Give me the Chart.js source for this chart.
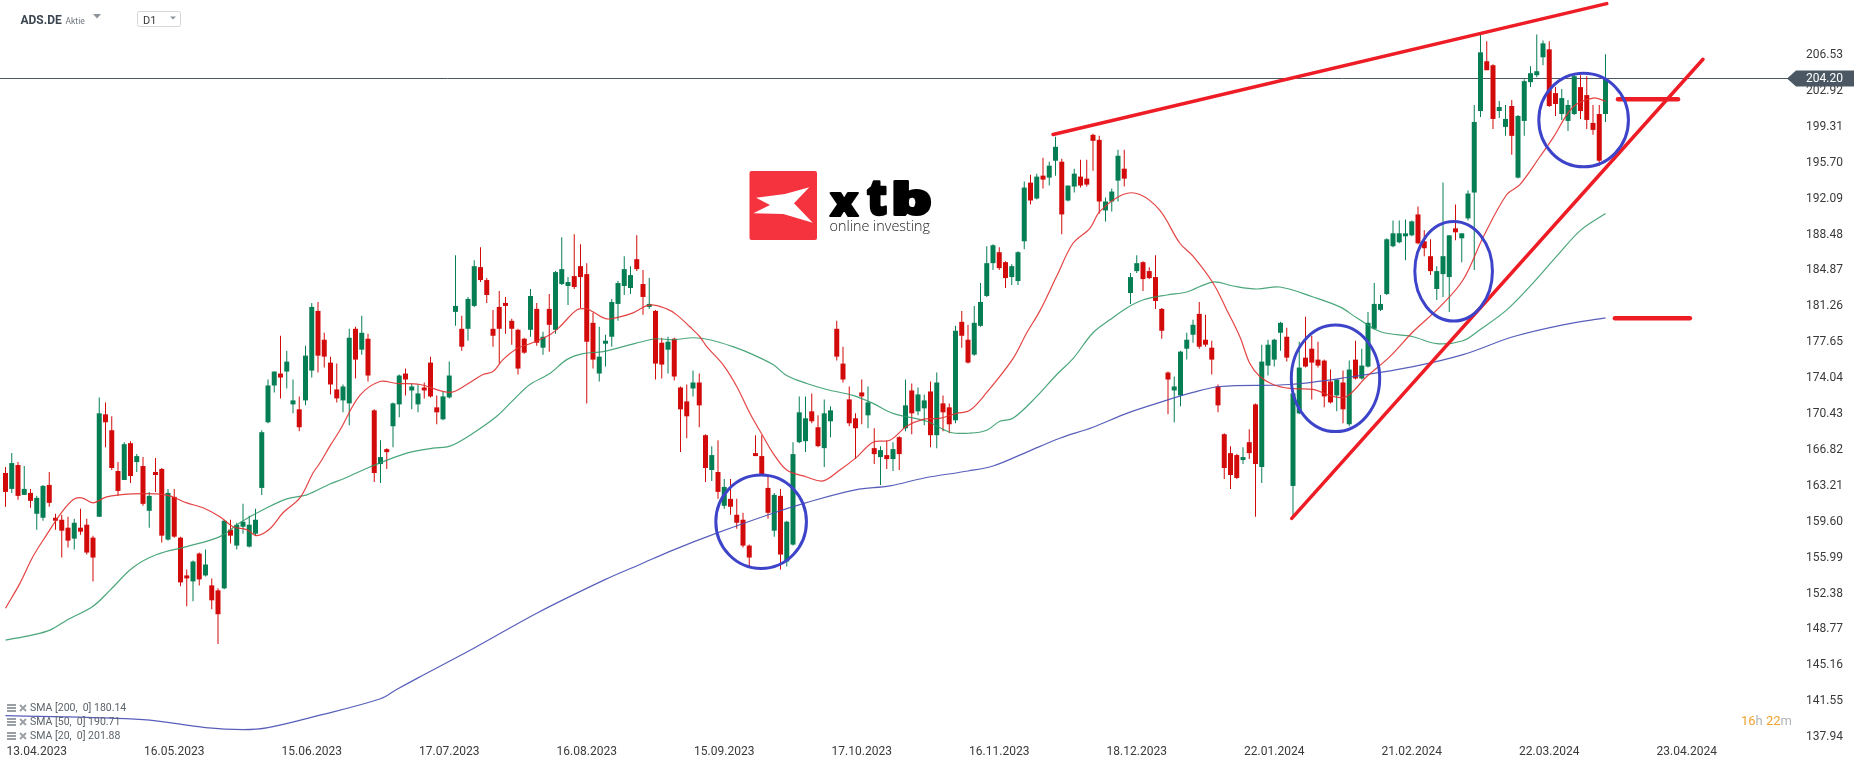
<!DOCTYPE html>
<html><head><meta charset="utf-8">
<script src="https://cdn.jsdelivr.net/npm/chart.js@4.4.0/dist/chart.umd.min.js"></script>
<style>html,body{margin:0;padding:0;background:#fff;overflow:hidden}#wrap{width:1866px;height:767px;position:relative}canvas{display:block}</style>
</head><body><div id="wrap"><canvas id="c" width="1866" height="767"></canvas></div>
<script>
// ---------- DATA ----------
const candleOpen = [
164.5,162.9,165.3,162.3,162.5,160.4,160.0,163.3,160.0,159.8,
159.0,157.9,159.0,159.3,158.0,160.1,170.4,168.8,164.7,163.8,
167.5,165.6,165.2,160.7,164.6,164.9,157.8,162.1,158.0,154.2,
153.6,156.4,154.2,153.2,152.7,152.9,158.8,157.2,159.1,157.1,
158.4,163.0,169.6,173.3,174.5,174.7,171.4,170.9,171.8,174.8,
180.8,177.9,175.6,172.9,171.8,171.5,179.0,176.9,178.0,170.8,
165.4,166.9,169.2,171.4,174.5,172.8,171.4,173.1,175.6,171.1,
169.9,172.1,180.7,179.0,179.0,181.3,185.2,183.9,179.0,181.2,
181.6,179.8,178.9,178.0,178.9,181.0,177.1,181.0,178.9,183.5,
183.3,184.3,185.3,184.5,179.6,174.5,177.5,178.2,181.5,183.3,
183.1,186.0,183.5,181.2,180.8,177.6,176.9,178.0,173.1,171.7,
173.0,173.6,168.3,164.8,164.6,161.2,161.9,160.3,159.8,157.2,
166.5,166.2,163.0,158.7,162.2,155.6,157.3,167.6,167.7,170.7,
169.1,167.0,169.7,179.0,175.5,171.9,170.0,172.6,170.3,167.0,
166.1,166.3,165.9,168.1,169.0,172.8,170.7,171.0,172.7,168.3,
171.5,171.1,169.8,179.7,177.9,176.4,179.3,182.3,185.6,186.7,
185.7,184.2,183.8,187.8,193.7,192.1,194.4,194.2,195.9,195.8,
191.9,193.3,194.3,194.1,198.5,198.0,190.9,191.8,193.9,195.1,
182.6,184.8,185.7,184.8,184.2,181.0,174.6,172.8,172.3,177.0,
178.4,180.5,177.9,177.1,173.2,168.4,166.5,166.3,165.8,167.6,
171.4,165.1,175.3,175.9,178.6,178.2,163.2,170.5,176.1,177.0,
175.9,175.8,173.7,172.3,173.6,169.4,175.9,174.0,175.2,179.0,
180.9,182.5,187.3,187.7,188.3,188.4,190.5,187.8,186.3,183.0,
184.5,184.2,189.1,188.1,190.1,192.7,200.9,205.9,205.5,200.9,
199.3,201.4,194.2,199.9,203.8,204.5,206.3,207.1,202.7,200.6,
199.9,200.6,203.3,202.5,199.7,200.6,200.6];
const candleHigh = [
165.1,166.5,165.6,165.2,162.9,162.2,163.3,164.6,160.4,160.3,
160.1,159.9,160.9,159.9,158.2,172.1,171.6,170.2,165.6,167.6,
167.7,166.4,166.1,162.6,166.0,165.0,162.9,162.9,158.1,154.8,
155.7,156.5,156.8,153.9,152.9,159.8,159.8,159.5,161.4,160.2,
160.9,168.8,173.9,174.7,178.3,176.8,173.9,172.2,177.3,181.6,
181.7,178.6,176.2,175.5,173.4,179.0,179.2,180.3,178.5,170.9,
167.8,167.0,171.6,174.4,175.0,173.5,173.4,173.6,176.2,172.3,
172.7,175.7,186.4,180.3,182.2,185.9,187.2,184.1,180.9,182.8,
182.2,180.0,179.0,178.1,183.0,181.6,178.7,182.5,184.8,188.2,
184.2,188.5,187.5,185.6,180.6,179.2,178.4,182.0,183.8,186.3,
185.3,188.4,184.9,184.1,180.9,178.1,178.2,178.1,173.2,173.4,
174.8,174.5,168.4,167.2,167.8,163.9,163.9,161.9,160.5,157.3,
168.3,168.3,164.1,162.5,162.9,159.7,167.6,172.2,172.2,172.5,
170.3,171.9,171.2,179.8,177.2,173.2,170.5,173.9,173.2,169.0,
167.2,167.8,167.6,168.2,173.9,173.5,173.1,172.4,173.7,174.6,
172.3,171.5,179.3,180.8,179.4,181.3,183.6,187.3,187.5,187.2,
185.8,185.5,186.8,193.8,194.5,194.6,196.2,195.8,198.3,196.1,
193.4,195.1,196.0,196.0,198.6,198.4,192.2,193.1,197.0,197.0,
184.6,186.4,185.8,185.2,186.4,181.1,174.7,174.2,176.8,178.6,
179.9,181.7,180.4,177.8,173.4,168.5,167.2,166.4,167.1,168.9,
171.5,177.4,177.9,178.0,179.7,179.1,172.6,177.7,180.2,178.3,
177.7,175.9,174.9,173.9,174.8,175.8,177.8,177.0,180.7,183.6,
182.4,188.1,189.9,189.9,190.0,189.9,191.3,188.9,188.0,185.3,
193.7,188.4,191.5,188.6,192.9,201.5,208.6,207.9,205.6,201.9,
201.5,202.0,200.5,204.1,205.4,208.6,208.0,207.9,203.3,203.1,
202.0,204.7,204.5,204.4,201.5,201.5,206.6];
const candleLow = [
161.1,162.5,161.8,162.3,161.0,158.8,159.7,161.1,158.8,156.0,
157.0,156.8,158.3,156.3,153.6,160.1,167.1,164.8,162.2,163.8,
163.5,164.6,161.2,159.0,162.6,157.5,157.7,158.0,153.1,151.1,
151.6,153.2,154.1,150.8,147.3,152.8,157.4,156.8,158.4,157.0,
158.2,162.3,169.5,172.6,172.0,173.0,170.5,168.7,171.3,174.1,
174.6,175.1,172.4,171.6,170.6,169.3,174.0,176.4,173.7,163.6,
163.5,164.9,167.1,170.1,172.3,170.9,170.6,172.0,172.1,169.4,
169.8,172.0,179.3,176.8,177.8,181.2,183.7,181.6,177.2,175.5,
178.5,177.4,174.4,176.5,178.2,177.3,176.4,176.7,178.5,183.4,
181.4,183.0,181.1,171.5,175.0,173.7,175.2,177.2,179.8,182.4,
182.5,184.8,180.4,181.0,173.9,174.0,174.5,173.8,166.6,168.0,
172.2,169.1,163.6,163.7,161.9,160.9,160.3,158.9,157.0,155.0,
166.2,164.4,159.9,158.1,154.8,155.1,157.2,167.5,166.6,169.5,
167.1,165.1,168.1,175.8,173.6,169.2,165.9,169.4,169.0,165.4,
163.3,164.9,164.7,164.8,168.7,168.4,170.3,169.3,167.1,167.0,
168.7,168.5,169.5,177.1,175.5,176.3,179.2,182.2,184.9,184.9,
183.1,183.4,183.4,187.0,191.5,192.0,193.1,193.4,194.4,188.5,
191.8,192.7,193.2,193.3,194.9,190.6,189.8,190.8,191.8,193.3,
181.5,184.6,182.8,184.0,181.0,178.0,170.4,169.6,171.2,175.9,
177.6,177.0,177.2,174.4,170.6,163.9,162.9,163.9,165.4,165.9,
160.1,163.5,174.3,175.2,176.8,175.7,160.1,170.4,175.1,171.9,
175.1,171.1,171.5,170.7,169.5,169.2,173.9,173.9,175.1,178.9,
180.8,182.4,187.2,187.6,185.9,188.3,187.5,186.3,184.4,181.9,
182.2,180.7,187.9,185.7,189.9,184.9,200.3,205.0,199.1,200.2,
198.4,196.5,194.1,198.4,203.3,204.3,205.5,201.3,200.4,200.0,
198.9,200.5,200.1,199.1,198.5,195.4,199.8];
const candleClose = [
162.6,165.5,162.2,162.9,161.7,162.0,163.2,161.5,159.7,158.7,
157.7,159.5,158.6,156.5,156.0,170.5,169.6,165.0,162.7,167.4,
164.2,166.2,161.4,162.2,164.3,158.2,162.5,158.1,153.5,153.9,
155.6,153.8,155.3,151.7,150.3,159.7,158.2,159.3,159.6,159.3,
159.8,168.6,173.3,174.7,174.1,175.7,171.8,169.1,176.3,181.2,
176.3,176.2,173.4,172.0,173.2,178.1,175.9,178.6,174.3,164.5,
166.1,166.6,171.5,174.3,173.9,173.2,172.5,172.8,172.2,170.6,
172.2,174.3,181.3,177.2,182.0,185.3,183.9,182.4,178.3,179.0,
181.3,179.0,175.0,176.6,182.3,177.6,178.2,179.4,184.7,185.0,
183.7,183.2,184.2,177.7,175.9,176.2,177.8,181.7,183.6,185.0,
184.4,185.0,182.2,181.5,175.5,175.4,177.7,174.2,170.9,170.2,
173.6,171.3,165.0,166.3,162.6,163.1,161.1,159.5,157.2,156.0,
166.2,164.4,160.5,162.3,156.3,159.6,166.4,170.6,170.0,169.7,
167.2,170.5,170.8,176.2,173.9,169.5,169.0,172.2,171.6,166.4,
166.8,165.9,166.9,166.4,171.3,170.5,172.4,171.8,168.3,173.6,
170.6,169.4,178.8,178.3,175.6,179.6,181.7,185.6,187.4,185.1,
184.1,185.3,186.7,193.2,191.9,194.3,194.0,195.4,197.3,190.5,
193.4,194.6,193.4,193.5,197.9,191.8,191.8,192.8,196.4,194.1,
184.2,185.6,184.0,184.1,181.8,178.8,173.9,173.2,176.7,177.9,
179.4,177.2,177.4,175.9,171.3,165.0,164.3,164.0,166.1,166.5,
165.4,175.7,177.4,177.9,179.6,176.1,172.5,175.1,175.2,175.6,
175.3,172.2,171.6,173.9,170.9,174.9,174.0,175.3,179.6,181.5,
181.5,188.0,188.6,188.6,188.6,189.8,187.6,187.1,184.8,184.8,
186.3,188.4,188.7,188.6,192.6,199.8,206.8,205.0,200.1,201.3,
200.1,198.4,200.4,203.9,204.7,204.9,207.7,201.4,201.6,202.2,
201.5,204.4,200.9,200.0,199.0,195.9,204.2];

// moving averages sampled along the drawn curves (x = bar number, y = price)
const sma20X = [0,2.3,4.4,6.6,8.7,10.8,12.2,14,16.2,20.4,24.2,26.3,29,31.6,34.3,36.4,38.6,40.2,42.3,44.4,47.1,49.2,50.3,51.9,53.5,56.7,59.9,62.6,66.3,71.1,73.8,76.4,78,79.6,81.8,83.9,87.1,88.7,91.4,93,94,96.2,98.3,100.4,103.1,105.8,107.4,109.5,111.1,112.2,114.8,117,119.1,121.2,122.8,125,128.2,130.8,133.5,136.2,138.8,141.5,144.2,146.8,149.5,152.2,154.3,157,161.2,163.4,165.5,168.2,170.8,173.5,175.1,178.8,181.5,184.7,187.9,190,193.2,195.4,197.5,199.1,200.7,202.8,205.5,209.2,212.4,214.6,217.8,221.5,225.2,229.5,233.2,236.5,240.2,242.3,245.5,247.6,250.8,254,256];
const sma20V = [150.9,153.4,156.1,158.3,160.3,161.8,162.0,161.5,162.1,162.4,162.4,162.2,161.5,161.0,160.1,159.1,158.8,158.2,158.9,160.5,162.0,164.5,165.5,167.2,168.8,172.3,173.7,173.5,173.4,172.6,173.4,174.4,174.7,175.9,177.0,177.5,178.4,179.2,180.9,181.0,180.7,180.0,180.2,180.6,181.4,181.0,180.4,179.2,178.2,177.2,175.4,173.2,170.5,168.2,166.5,164.8,164.1,163.7,164.8,166.1,167.6,167.8,169.2,169.9,170.0,170.5,170.8,172.6,176.0,178.6,180.8,184.3,187.6,189.1,190.8,192.5,192.5,190.9,187.6,186.3,183.6,180.9,178.2,175.5,174.2,173.4,173.0,172.9,172.2,172.2,174.2,176.2,178.7,181.2,183.9,188.3,192.5,193.5,196.3,198.2,201.3,202.2,201.9];
const sma50X = [0,4.2,7.1,9.8,14,16.7,20.4,24.2,29,34.3,37.5,41.2,45,48.2,51.9,54,58.3,64.2,68.4,71.1,74.8,78.6,81.2,83.9,87.1,89.8,92.4,95.6,98.8,103.1,104.2,106.8,110,112.7,116.4,119.6,122.8,125,128.2,131.4,135.6,138.8,142,147.4,151.1,154.3,157,159.1,161.2,165,168.2,170.8,174,176.7,179.4,182,185.8,189,193.2,196.4,200.2,203.9,209.2,213.5,216.2,220,225.2,229,233.2,235.9,240.2,244.4,248.2,252,256];
const sma50V = [147.7,148.2,148.7,149.7,151.1,152.7,155.0,156.3,157.1,158.1,159.5,160.8,161.9,162.3,163.4,163.9,165.1,166.5,167.0,167.2,168.5,170.2,171.8,173.4,174.5,175.9,176.5,176.7,177.2,177.9,178.0,177.9,178.1,177.9,177.2,176.4,175.4,174.3,173.5,172.9,172.3,171.5,170.5,169.7,168.6,168.5,168.8,169.7,170.0,172.2,174.4,176.0,178.6,179.9,181.1,181.9,182.4,182.7,183.7,183.3,183.0,183.2,182.2,181.2,180.1,178.7,178.2,177.5,177.8,178.9,180.9,183.6,186.3,188.9,190.6];
const sma200X = [0,22,32,38,42,50,60,62.5,66,75,85,96,101.5,107,114,123,128,136,141.5,147,154,158,163.4,168.7,174,179.4,184.7,190,194.3,205.5,214.6,225.2,233.2,241.2,249.2,256];
const sma200V = [140.1,139.7,138.9,138.7,138.9,140.1,141.8,142.7,143.9,146.9,150.4,153.8,155.3,156.8,158.5,160.5,161.5,162.8,163.2,164.0,164.7,165.2,166.6,168.0,169.1,170.5,171.6,172.6,173.2,173.4,174.1,175.2,176.4,178.2,179.4,180.1];
const sma20Last = 201.88, sma50Last = 190.71, sma200Last = 180.14;

const xTickPos = [5,27,49,71,93,115,137,159,181,203,225,247,269];
const xTickLabels = ['13.04.2023','16.05.2023','15.06.2023','17.07.2023','16.08.2023','15.09.2023','17.10.2023','16.11.2023','18.12.2023','22.01.2024','21.02.2024','22.03.2024','23.04.2024'];
const yTicks = [137.94,141.55,145.16,148.77,152.38,155.99,159.60,163.21,166.82,170.43,174.04,177.65,181.26,184.87,188.48,192.09,195.70,199.31,202.92,206.53];

// drawings (bar number / price)
const trendUpperX = [167.6,256.2], trendUpperV = [198.54,211.70];
const trendSupportX = [205.8,271.6], trendSupportV = [159.94,206.10];
const levelX0 = [258.0,257.5], levelX1 = [267.6,269.5], levelV = [202.07,180.05];
const circleX = [120.9,212.8,231.7,252.5], circleV = [159.6,174.02,184.78,199.99];
const circleRX = [7.25,7.07,6.21,7.17], circleRV = [4.70,5.36,5.0,4.70];

// ---------- CHART ----------
const GREEN = '#067e54', RED = '#d20a0a';
const idx = candleOpen.map((_, i) => i);
const col = (c) => { const i = c.dataIndex; return candleClose[i] >= candleOpen[i] ? GREEN : RED; };
Chart.defaults.font.family = 'Roboto, "Noto Sans", sans-serif';

const overlay = {
  id: 'overlay',
  beforeDatasetsDraw(chart) {
    const c = chart.ctx, sy = chart.scales.y;
    drawLogo(c);
    const y = Math.round(sy.getPixelForValue(candleClose[candleClose.length - 1])) + 0.5;
    c.save(); c.strokeStyle = '#4b5864'; c.lineWidth = 1;
    c.beginPath(); c.moveTo(0, y); c.lineTo(1790, y); c.stroke(); c.restore();
  },
  afterDatasetsDraw(chart) {
    const c = chart.ctx, sx = chart.scales.x, sy = chart.scales.y;
    const X = v => sx.getPixelForValue(v), Y = v => sy.getPixelForValue(v);
    c.save();
    c.strokeStyle = '#ee1d25'; c.lineCap = 'round'; c.lineWidth = 3.5;
    c.beginPath(); c.moveTo(X(trendUpperX[0]), Y(trendUpperV[0])); c.lineTo(X(trendUpperX[1]), Y(trendUpperV[1])); c.stroke();
    c.beginPath(); c.moveTo(X(trendSupportX[0]), Y(trendSupportV[0])); c.lineTo(X(trendSupportX[1]), Y(trendSupportV[1])); c.stroke();
    c.lineWidth = 4.5;
    for (let i = 0; i < levelV.length; i++) {
      c.beginPath(); c.moveTo(X(levelX0[i]), Y(levelV[i])); c.lineTo(X(levelX1[i]), Y(levelV[i])); c.stroke();
    }
    c.strokeStyle = '#3d44c9'; c.lineWidth = 3;
    for (let i = 0; i < circleX.length; i++) {
      const cx = X(circleX[i]), cy = Y(circleV[i]);
      const rx = Math.abs(X(circleX[i] + circleRX[i]) - cx), ry = Math.abs(Y(circleV[i] + circleRV[i]) - cy);
      c.beginPath(); c.ellipse(cx, cy, rx, ry, 0, 0, Math.PI * 2); c.stroke();
    }
    c.restore();
  },
  afterDraw(chart) {
    const c = chart.ctx, sy = chart.scales.y;
    const last = candleClose[candleClose.length - 1];
    const y = Math.round(sy.getPixelForValue(last)) + 0.5;
    c.save();
    c.fillStyle = '#4b5864';
    c.beginPath(); c.moveTo(1787, y); c.lineTo(1796, y - 8); c.lineTo(1854, y - 8); c.lineTo(1854, y + 8); c.lineTo(1796, y + 8); c.closePath(); c.fill();
    c.fillStyle = '#fff'; c.font = '12px Roboto'; c.textBaseline = 'middle'; c.textAlign = 'left';
    c.fillText(last.toFixed(2), 1806, y + 0.5);
    // header
    c.textBaseline = 'alphabetic';
    c.font = 'bold 12px Roboto'; c.fillStyle = '#3a4550'; c.fillText('ADS.DE', 20.5, 24);
    c.font = '8.5px Roboto'; c.fillStyle = '#6d757d'; c.fillText('Aktie', 65.5, 23.5);
    c.fillStyle = '#8c939a';
    c.beginPath(); c.moveTo(93, 14); c.lineTo(101, 14); c.lineTo(97, 18.5); c.closePath(); c.fill();
    c.strokeStyle = '#d3d7db'; c.lineWidth = 1;
    c.beginPath(); c.roundRect(137.5, 11.5, 43, 15, 2); c.stroke();
    c.font = '11px Roboto'; c.fillStyle = '#3a3a3a'; c.fillText('D1', 143, 23.5);
    c.fillStyle = '#8c939a';
    c.beginPath(); c.moveTo(170, 16.5); c.lineTo(176, 16.5); c.lineTo(173, 19.5); c.closePath(); c.fill();
    // legend
    const rows = [['SMA [200,  0] ' + sma200Last.toFixed(2), 708], ['SMA [50,  0] ' + sma50Last.toFixed(2), 722], ['SMA [20,  0] ' + sma20Last.toFixed(2), 736]];
    rows.forEach(([t, ry]) => {
      c.fillStyle = '#9a9fa5';
      c.fillRect(7, ry - 4, 9, 2); c.fillRect(7, ry - 1, 9, 2); c.fillRect(7, ry + 2, 9, 2);
      c.strokeStyle = '#9a9fa5'; c.lineWidth = 1.8;
      c.beginPath(); c.moveTo(20, ry - 3); c.lineTo(26, ry + 3); c.moveTo(26, ry - 3); c.lineTo(20, ry + 3); c.stroke();
      c.fillStyle = '#5c636a'; c.font = '10.5px Roboto'; c.textBaseline = 'middle';
      c.fillText(t, 30, ry);
    });
    // timer
    c.font = '13px Roboto'; c.textBaseline = 'middle';
    let tx = 1741; const ty = 722;
    [['16', '#f2a22f'], ['h ', '#b0b4b8'], ['22', '#f2a22f'], ['m', '#b0b4b8']].forEach(([t, cl]) => {
      c.fillStyle = cl; c.fillText(t, tx, ty); tx += c.measureText(t).width;
    });
    c.restore();
  }
};

function fitGlyph(c, ch, x0, x1, y0, y1, font) {
  c.save();
  c.font = font;
  const m = c.measureText(ch);
  const w = m.actualBoundingBoxLeft + m.actualBoundingBoxRight;
  const h = m.actualBoundingBoxAscent + m.actualBoundingBoxDescent;
  c.translate(x0, y0); c.scale((x1 - x0) / w, (y1 - y0) / h);
  c.textBaseline = 'alphabetic'; c.textAlign = 'left'; c.fillStyle = '#000'; c.strokeStyle = '#000'; c.lineWidth = 3; c.lineJoin = 'round';
  c.strokeText(ch, m.actualBoundingBoxLeft, m.actualBoundingBoxAscent);
  c.fillText(ch, m.actualBoundingBoxLeft, m.actualBoundingBoxAscent);
  c.restore();
}
function drawLogo(c) {
  c.save();
  c.fillStyle = '#f5333f';
  c.beginPath(); c.roundRect(749.5, 171, 67.5, 69, 2); c.fill();
  c.fillStyle = '#fff';
  const pts = [[756,197.7],[785,194],[809.3,187.3],[794,203.3],[812.7,222.7],[783.3,214],[753.3,213.3],[770,205]];
  c.beginPath(); pts.forEach((p, i) => i ? c.lineTo(p[0], p[1]) : c.moveTo(p[0], p[1])); c.closePath(); c.fill();
  const f = '800 60px "Open Sans", Roboto, sans-serif';
  fitGlyph(c, 'x', 830, 858.5, 193.5, 216, f);
  fitGlyph(c, 't', 867.5, 886, 182, 216, f);
  fitGlyph(c, 'b', 894, 929.5, 181, 216, f);
  c.font = '300 14px "Open Sans", Roboto, sans-serif';
  const w = c.measureText('online investing').width;
  c.translate(829.5, 231); c.scale(100.5 / w, 1);
  c.fillStyle = '#1b1b1b'; c.textBaseline = 'alphabetic';
  c.fillText('online investing', 0, 0);
  c.restore();
}

new Chart(document.getElementById('c'), {
  type: 'bar',
  data: {
    datasets: [
      { type: 'line', data: sma20X.map((x, i) => ({ x, y: sma20V[i] })), borderColor: 'rgba(226,48,48,0.9)', borderWidth: 1.2, pointRadius: 0, tension: 0.35, order: 1 },
      { type: 'line', data: sma50X.map((x, i) => ({ x, y: sma50V[i] })), borderColor: 'rgba(44,150,100,0.85)', borderWidth: 1.2, pointRadius: 0, tension: 0.35, order: 1 },
      { type: 'line', data: sma200X.map((x, i) => ({ x, y: sma200V[i] })), borderColor: 'rgba(70,78,180,0.9)', borderWidth: 1.2, pointRadius: 0, tension: 0.35, order: 1 },
      { data: idx.map(i => ({ x: i, y: [candleOpen[i], candleClose[i]] })), backgroundColor: col, barThickness: 5, grouped: false, minBarLength: 1, inflateAmount: 0, borderWidth: 0, order: 2 },
      { data: idx.map(i => ({ x: i, y: [candleLow[i], candleHigh[i]] })), backgroundColor: col, barThickness: 1, grouped: false, minBarLength: 1, inflateAmount: 0, borderWidth: 0, order: 3 }
    ]
  },
  options: {
    responsive: false, animation: false, events: [],
    layout: { padding: 0 },
    plugins: { legend: { display: false }, tooltip: { enabled: false } },
    scales: {
      x: {
        type: 'linear', min: -0.88, max: 283.92, offset: false,
        grid: { display: false, drawTicks: false }, border: { display: false },
        afterBuildTicks: s => { s.ticks = xTickPos.map(v => ({ value: v })); },
        afterFit: s => { s.height = 22; s.paddingLeft = 0; s.paddingRight = 0; s.paddingTop = 0; s.paddingBottom = 0; },
        ticks: { autoSkip: false, maxRotation: 0, padding: 0, color: '#3a3a3a', font: { size: 12 },
          callback: (v, i) => xTickLabels[i] }
      },
      y: {
        position: 'right', min: 137.15, max: 212.06,
        grid: { display: false, drawTicks: false }, border: { display: false },
        afterBuildTicks: s => { s.ticks = yTicks.map(v => ({ value: v })); },
        afterFit: s => { s.width = 86; s.paddingTop = 0; s.paddingBottom = 0; s.paddingLeft = 0; s.paddingRight = 0; },
        ticks: { padding: 26, color: '#3a3a3a', font: { size: 12 }, callback: v => Number(v).toFixed(2) }
      }
    }
  },
  plugins: [overlay]
});
</script></body></html>
